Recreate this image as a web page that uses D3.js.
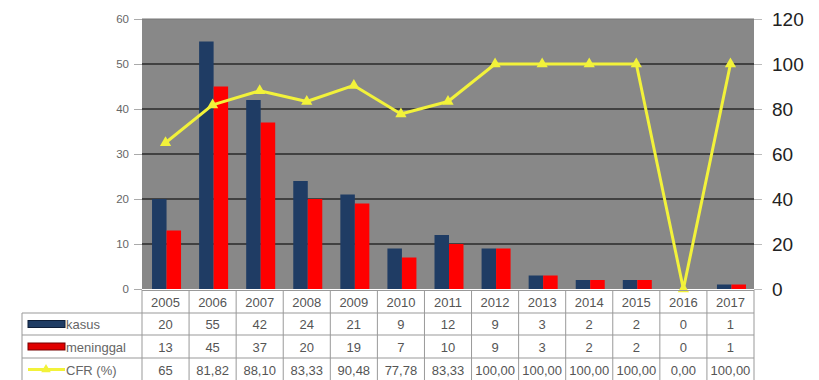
<!DOCTYPE html>
<html><head><meta charset="utf-8">
<script src="https://cdn.jsdelivr.net/npm/d3@7/dist/d3.min.js"></script>
<style>body{margin:0;background:#fff;}svg{display:block;font-family:"Liberation Sans",Arial,sans-serif;}</style>
</head><body><svg id="c" width="819" height="380"></svg>
<script>
const years = ["2005","2006","2007","2008","2009","2010","2011","2012","2013","2014","2015","2016","2017"];
const kasus = [20,55,42,24,21,9,12,9,3,2,2,0,1];
const meninggal = [13,45,37,20,19,7,10,9,3,2,2,0,1];
const cfr = [65,81.82,88.10,83.33,90.48,77.78,83.33,100,100,100,100,0,100];
const cfrLabels = ["65","81,82","88,10","83,33","90,48","77,78","83,33","100,00","100,00","100,00","100,00","0,00","100,00"];
const leftTicks = [0,10,20,30,40,50,60];
const rightTicks = [0,20,40,60,80,100,120];
const seriesNames = ["kasus","meninggal","CFR (%)"];

const svg = d3.select("#c");
const L = 142, R = 754, T = 19, B = 289;
const x = d3.scaleBand().domain(years).range([L, R]);
const yL = d3.scaleLinear().domain([0,60]).range([B, T]);
const yR = d3.scaleLinear().domain([0,120]).range([B, T]);
const FONT = "Liberation Sans, Arial, sans-serif";

svg.append("rect").attr("x",L).attr("y",T).attr("width",R-L).attr("height",B-T).attr("fill","#888888");
svg.append("line").attr("x1",L).attr("x2",R).attr("y1",T).attr("y2",T).attr("stroke","#777").attr("stroke-width",1);
// gridlines
svg.append("g").selectAll("line").data(leftTicks.slice(1,-1)).join("line")
  .attr("x1",L).attr("x2",R).attr("y1",d=>yL(d)).attr("y2",d=>yL(d))
  .attr("stroke","#2a2a2a").attr("stroke-width",1.6);

// left axis
const gl = svg.append("g").attr("transform",`translate(${L},0)`)
  .call(d3.axisLeft(yL).tickValues(leftTicks).tickSize(8).tickPadding(5));
gl.select(".domain").remove();
gl.selectAll("line").attr("stroke","#aaa");
gl.selectAll("text").attr("fill","#666").attr("font-size",11.5).attr("font-family",FONT);

// right axis
const gr = svg.append("g").attr("transform",`translate(${R},0)`)
  .call(d3.axisRight(yR).tickValues(rightTicks).tickSize(8).tickPadding(10));
gr.select(".domain").remove();
gr.selectAll("line").attr("stroke","#bbb");
gr.selectAll("text").attr("fill","#222").attr("font-size",19).attr("font-family",FONT);

// bars
const bw = 14.5;
svg.append("g").selectAll("rect").data(kasus).join("rect")
  .attr("x",(d,i)=>x(years[i])+x.bandwidth()/2-bw+1).attr("width",bw)
  .attr("y",d=>yL(d)).attr("height",d=>B-yL(d)).attr("fill","#1f3c64");
svg.append("g").selectAll("rect").data(meninggal).join("rect")
  .attr("x",(d,i)=>x(years[i])+x.bandwidth()/2+1).attr("width",bw)
  .attr("y",d=>yL(d)).attr("height",d=>B-yL(d)).attr("fill","#ff0000");

// line
const cx = (i)=>x(years[i])+x.bandwidth()/2;
svg.append("path").datum(cfr)
  .attr("d",d3.line().x((d,i)=>cx(i)).y(d=>yR(d)))
  .attr("fill","none").attr("stroke","#f2f23a").attr("stroke-width",3).attr("stroke-linejoin","round");
svg.append("g").selectAll("path").data(cfr).join("path")
  .attr("transform",(d,i)=>`translate(${cx(i)},${yR(d)})`)
  .attr("d",d3.symbol(d3.symbolTriangle,55)).attr("fill","#f2f23a");

// table
const rowsY = [290,313,335,358,381];
const tg = svg.append("g");
const border = "#999";
years.forEach((yv,i)=>{
  tg.append("line").attr("x1",x(yv)).attr("x2",x(yv)).attr("y1",rowsY[0]).attr("y2",rowsY[4]).attr("stroke",border);
});
tg.append("line").attr("x1",R).attr("x2",R).attr("y1",rowsY[0]).attr("y2",rowsY[4]).attr("stroke",border);
tg.append("line").attr("x1",22).attr("x2",22).attr("y1",rowsY[1]).attr("y2",rowsY[4]).attr("stroke",border);
tg.append("line").attr("x1",L).attr("x2",R).attr("y1",rowsY[0]+0.5).attr("y2",rowsY[0]+0.5).attr("stroke",border);
[1,2,3].forEach(k=>{
  tg.append("line").attr("x1",22).attr("x2",R).attr("y1",rowsY[k]).attr("y2",rowsY[k]).attr("stroke",border);
});
const TF = 13;
tg.selectAll("text.yr").data(years).join("text").attr("class","yr")
  .attr("x",d=>x(d)+x.bandwidth()/2).attr("y",(rowsY[0]+rowsY[1])/2+5)
  .attr("text-anchor","middle").attr("font-size",TF).attr("fill","#555").text(d=>d);
const rowData = [kasus.map(String), meninggal.map(String), cfrLabels];
rowData.forEach((arr,r)=>{
  tg.append("g").selectAll("text").data(arr).join("text")
    .attr("x",(d,i)=>x(years[i])+x.bandwidth()/2).attr("y",(rowsY[r+1]+rowsY[r+2])/2+5)
    .attr("text-anchor","middle").attr("font-size",TF).attr("fill","#555").text(d=>d);
});
// legend keys
const lc = [{c:"#1f3c64",s:"#0e1e38"},{c:"#e00000",s:"#700"}];
lc.forEach((o,r)=>{
  const cy = (rowsY[r+1]+rowsY[r+2])/2;
  tg.append("rect").attr("x",28).attr("y",cy-3.5).attr("width",37).attr("height",7).attr("fill",o.c).attr("stroke",o.s).attr("stroke-width",1);
});
{
  const cy = (rowsY[3]+rowsY[4])/2;
  tg.append("line").attr("x1",28).attr("x2",65).attr("y1",cy).attr("y2",cy).attr("stroke","#f2f23a").attr("stroke-width",3);
  tg.append("path").attr("transform",`translate(46,${cy})`).attr("d",d3.symbol(d3.symbolTriangle,40)).attr("fill","#f2f23a");
}
seriesNames.forEach((n,r)=>{
  tg.append("text").attr("x",66).attr("y",(rowsY[r+1]+rowsY[r+2])/2+5)
    .attr("font-size",TF).attr("fill","#666").text(n);
});
</script></body></html>
